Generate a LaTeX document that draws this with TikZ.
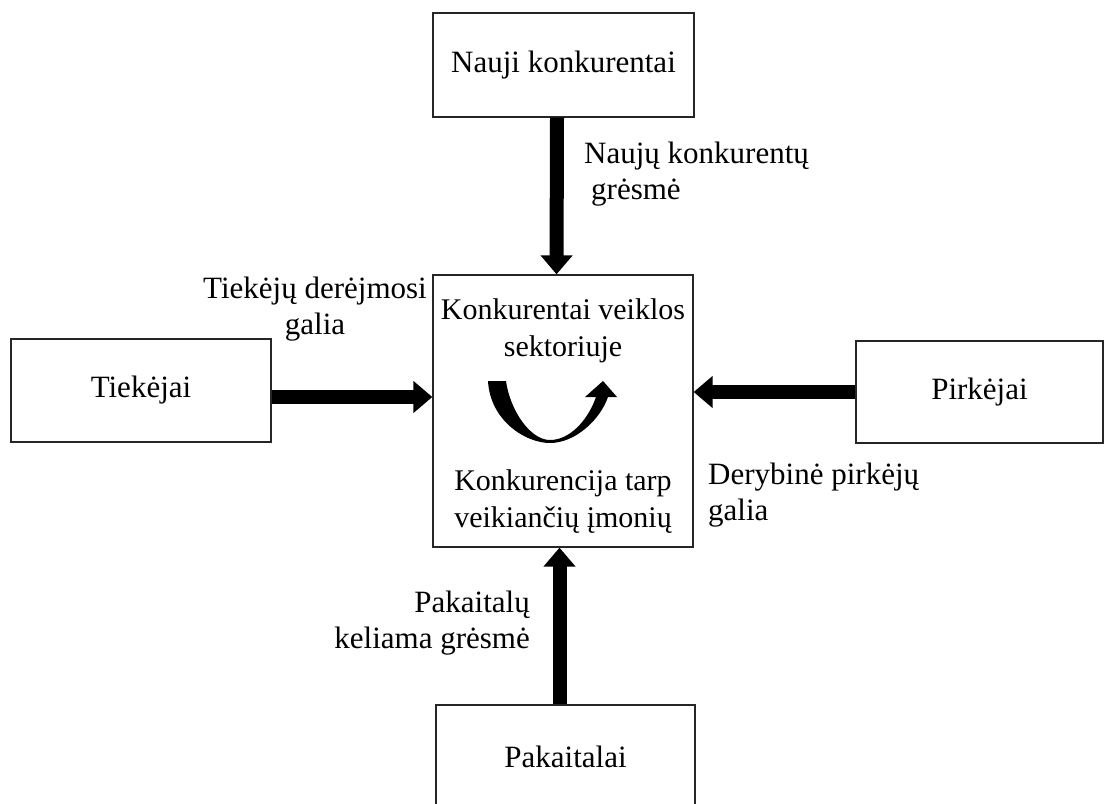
\documentclass[tikz,border=0pt]{standalone}
\usepackage{fontspec}
\setmainfont{Liberation Serif}
\usetikzlibrary{arrows.meta}
\begin{document}
\begin{tikzpicture}[x=1pt,y=-1pt,
  box/.style={draw=black!85, line width=1.3pt, inner sep=0pt, font=\fontsize{31}{36}\selectfont},
  lbl/.style={inner sep=0pt, font=\fontsize{31}{36}\selectfont},
  lblin/.style={inner sep=0pt, font=\fontsize{30}{37}\selectfont},
  big/.style={line width=14pt, -{Triangle[width=31pt,length=19pt]}}]
\useasboundingbox (0,0) rectangle (1105,803);
\clip (0,0) rectangle (1105,803);
\fill[white] (0,0) rectangle (1105,803);
% boxes
\node[box, minimum width=261pt, minimum height=104pt] (new) at (563.5,65) {Nauji konkurentai};
\node[box, minimum width=260pt, minimum height=272pt] (ind) at (563,411) {};
\node[box, minimum width=260pt, minimum height=103pt] (sup) at (141,390.5) {Tiekėjai};
\node[box, minimum width=247pt, minimum height=102pt] (buy) at (979.5,392) {Pirkėjai};
\node[box, minimum width=259pt, minimum height=104pt] (sub) at (565.5,757) {Pakaitalai};
% arrows
\draw[big] ([xshift=-6.5pt]new.south) -- ([xshift=-6.5pt]ind.north);
\draw[big] ([yshift=-6.5pt]sup.east) -- ([yshift=-6.5pt]sup.east -| ind.west);
\draw[big] (buy.west) -- (buy.west -| ind.east);
\draw[big] ([xshift=-6pt]sub.north) -- ([xshift=-6pt]sub.north |- ind.south);
% labels (base anchor = baseline of last line)
\node[lbl, align=left, anchor=base west] (tn) at (584,199) {Naujų konkurentų\\\hspace{7pt}grėsmė};
\node[lbl, align=center, anchor=base] (ts) at (315,334) {Tiekėjų derėjmosi\\galia};
\node[lblin, align=center, anchor=base] (ti1) at (563,356) {Konkurentai veiklos\\sektoriuje};
\node[lblin, align=center, anchor=base] (ti2) at (563,527) {Konkurencija tarp\\veikiančių įmonių};
\node[lbl, align=left, anchor=base west] (tb) at (708,520) {Derybinė pirkėjų\\galia};
\node[lbl, align=right, anchor=base east] (tp) at (530,648) {Pakaitalų\\keliama grėsmė};
% rivalry arrow
\fill (488,381) .. controls (490,420) and (525,443) .. (550,443)
  .. controls (575,443) and (600,420) .. (608,397) -- (617,397) -- (603,381)
  -- (585,397) -- (596,397)
  .. controls (588,420) and (570,440) .. (550,440)
  .. controls (530,440) and (510,410) .. (506,381) -- cycle;
\end{tikzpicture}
\end{document}
